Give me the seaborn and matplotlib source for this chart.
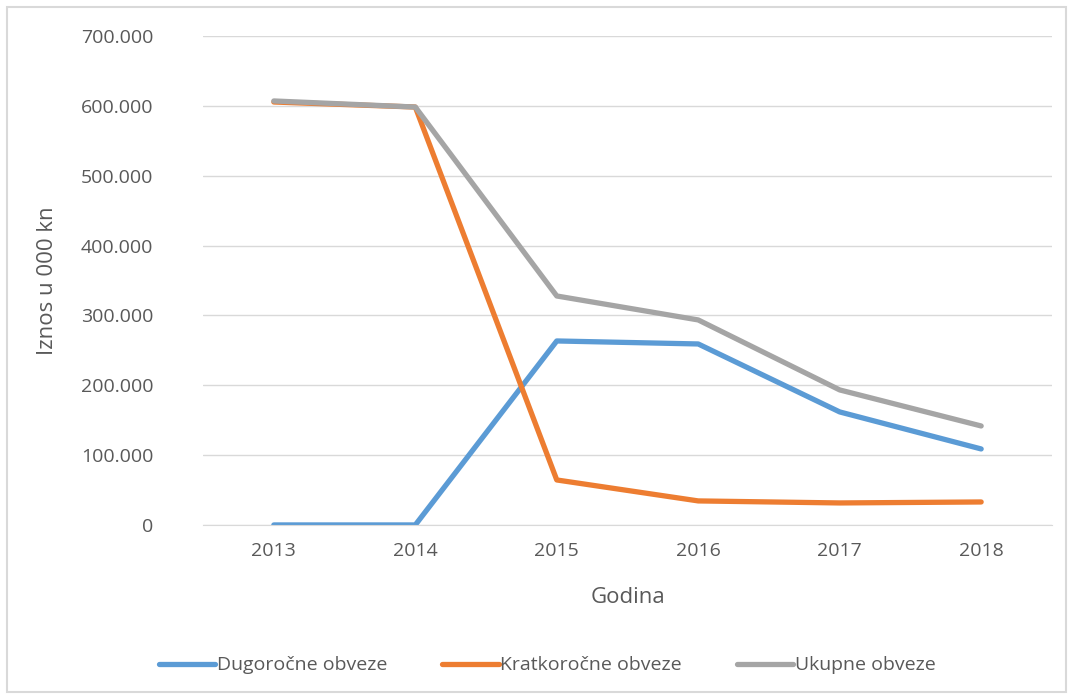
import pandas as pd
import seaborn as sns
import matplotlib.pyplot as plt
from matplotlib.ticker import FuncFormatter
from matplotlib.patches import Rectangle

godine = ["2013", "2014", "2015", "2016", "2017", "2018"]
dugorocne = [0, 0, 263400, 259100, 161800, 108800]
kratkorocne = [605500, 598300, 64400, 34400, 31500, 32900]
ukupne = [607000, 598300, 327800, 293500, 193300, 141700]

serije = ["Dugoročne obveze", "Kratkoročne obveze", "Ukupne obveze"]
boje = ["#5B9BD5", "#ED7D31", "#A5A5A5"]

df = pd.DataFrame({
    "Godina": godine * 3,
    "Iznos": dugorocne + kratkorocne + ukupne,
    "Serija": [serije[0]] * 6 + [serije[1]] * 6 + [serije[2]] * 6,
})

sns.set_style("white")
plt.rcParams["font.family"] = ["Open Sans", "DejaVu Sans"]
txt = "#595959"

fig = plt.figure(figsize=(10.69, 6.99), dpi=100)
ax = fig.add_axes([0.19, 0.249, 0.794, 0.6995])

sns.lineplot(data=df, x="Godina", y="Iznos", hue="Serija", palette=boje,
             linewidth=3.8, ax=ax, sort=False, legend=True)
for line in ax.get_lines():
    line.set_solid_capstyle("round")
    line.set_solid_joinstyle("round")

ax.set_xlim(-0.5, 5.5)
ax.set_ylim(0, 700000)
ax.set_yticks(range(0, 700001, 100000))
ax.yaxis.set_major_formatter(FuncFormatter(lambda v, p: f"{int(v):,}".replace(",", ".")))
ax.grid(axis="y", color="#D9D9D9", linewidth=1)
ax.set_axisbelow(True)
for s in ["top", "right", "left"]:
    ax.spines[s].set_visible(False)
ax.spines["bottom"].set_color("#D9D9D9")
ax.tick_params(axis="both", labelsize=14, colors=txt, length=0, pad=12)
ax.tick_params(axis="y", pad=36)
ax.set_xlabel("Godina", fontsize=16, color=txt, labelpad=20)
ax.set_ylabel("Iznos u 000 kn", fontsize=16, color=txt, labelpad=16)

handles, labels = ax.get_legend_handles_labels()
ax.legend(handles, labels, loc="center", bbox_to_anchor=(0.512, 0.048),
          bbox_transform=fig.transFigure, ncol=3, frameon=False,
          fontsize=14, labelcolor=txt, handlelength=2.9, handletextpad=0.1,
          columnspacing=2.8)

fig.patches.append(Rectangle((0.007, 0.01), 0.99, 0.98, transform=fig.transFigure,
                             fill=False, edgecolor="#D9D9D9", linewidth=1.5))

fig.savefig("out.png", dpi=100)
